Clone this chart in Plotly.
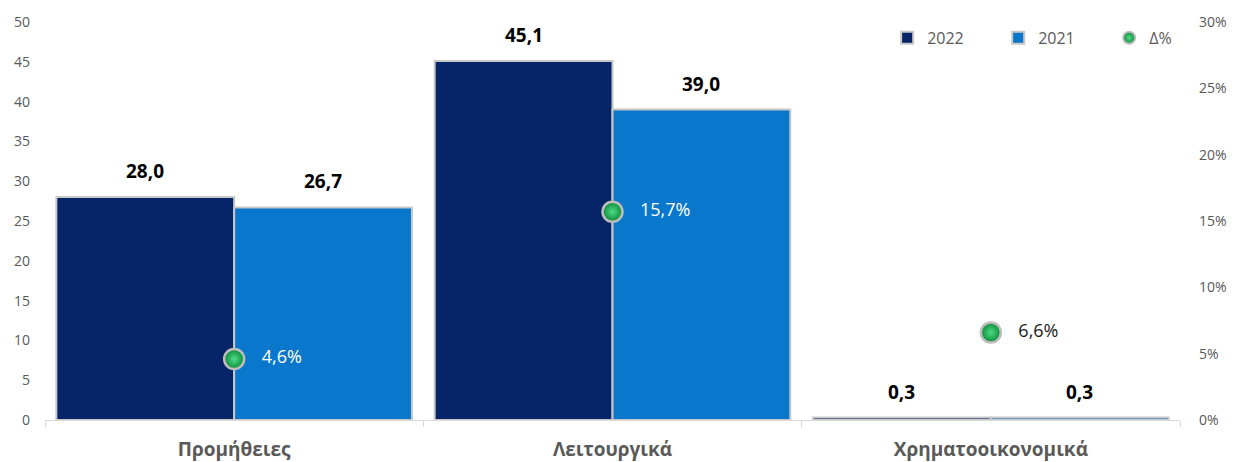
import plotly.graph_objects as go

categories = ["Προμήθειες", "Λειτουργικά", "Χρηματοοικονομικά"]
values_2022 = [28.0, 45.1, 0.3]
values_2021 = [26.7, 39.0, 0.3]
delta_pct = [0.046, 0.157, 0.066]
delta_label_colors = ["white", "white", "#1a1a1a"]

FONT = "Open Sans"
BAR_W = 0.47

fig = go.Figure()
fig.add_trace(go.Bar(
    name="2022", x=categories, y=values_2022, width=BAR_W, offset=-BAR_W,
    marker=dict(color="#062468", line=dict(color="#c8c8c8", width=2)),
    cliponaxis=False,
))
fig.add_trace(go.Bar(
    name="2021", x=categories, y=values_2021, width=BAR_W, offset=0,
    marker=dict(color="#0877cc", line=dict(color="#c8c8c8", width=2)),
    cliponaxis=False,
))
fig.add_trace(go.Scatter(
    name="Δ%", x=categories, y=delta_pct, yaxis="y2", mode="markers+text",
    marker=dict(color="#0b8a3a", size=20, line=dict(color="#bdbdbd", width=2.5),
                gradient=dict(type="radial", color="#4fdc86")),
    texttemplate="   %{y:.1%}", textposition="middle right",
    textfont=dict(family=FONT, size=18, color=delta_label_colors),
    cliponaxis=False,
))

annotations = []
for i, (a, b) in enumerate(zip(values_2022, values_2021)):
    for val, dx in ((a, -BAR_W / 2), (b, BAR_W / 2)):
        annotations.append(dict(
            x=i + dx, y=val, xref="x", yref="y", text=f"{val:.1f}".replace(".", ","),
            showarrow=False, yanchor="middle", yshift=26,
            font=dict(family=FONT, size=19, color="black", weight="bold"),
        ))

fig.update_layout(
    width=1234, height=462,
    margin=dict(l=45, r=54, t=22, b=42, autoexpand=False),
    paper_bgcolor="white", plot_bgcolor="white",
    separators=",.",
    barmode="overlay",
    font=dict(family=FONT, color="#595959", size=14),
    showlegend=True,
    legend=dict(orientation="h", x=0.742, y=0.96, xanchor="left", yanchor="middle",
                font=dict(size=16, color="#595959"), bgcolor="rgba(0,0,0,0)",
                entrywidth=66, entrywidthmode="pixels", tracegroupgap=0,
                itemsizing="constant"),
    annotations=annotations,
    xaxis=dict(type="category", tickson="boundaries", ticks="outside", ticklen=6,
               tickcolor="#d9d9d9", showline=True, linecolor="#d9d9d9", automargin=False,
               range=[-0.5, 2.5], ticklabelstandoff=12,
               tickfont=dict(size=19, color="#595959", weight="bold"), showgrid=False),
    yaxis=dict(range=[0, 50], dtick=5, showgrid=False, zeroline=False, ticks="",
               automargin=False,
               tickfont=dict(size=14, color="#595959"), ticklabelstandoff=14),
    yaxis2=dict(range=[0, 0.30], dtick=0.05, tickformat=".0%", overlaying="y", side="right",
                showgrid=False, zeroline=False, tickfont=dict(size=14, color="#595959"),
                automargin=False, ticklabelstandoff=18),
)
fig.write_html("out.html", config={"displayModeBar": False},
               post_script="document.body.style.margin='0';document.body.style.overflow='hidden';")
